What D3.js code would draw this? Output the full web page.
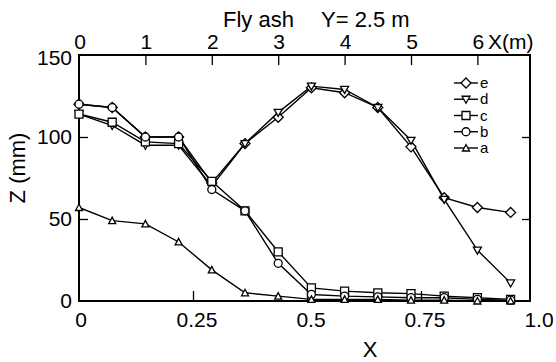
<!DOCTYPE html>
<html><head><meta charset="utf-8">
<script src="https://cdn.jsdelivr.net/npm/d3@7"></script>
<style>
html,body{margin:0;padding:0;background:#fff;}
svg{display:block;}
text{font-family:"Liberation Sans",Arial,sans-serif;fill:#000;}
</style></head>
<body>
<svg id="chart" width="556" height="362"></svg>
<script>
// ---- data ----
const xMeters = [0, 0.5, 1, 1.5, 2, 2.5, 3, 3.5, 4, 4.5, 5, 5.5, 6, 6.5];
const seriesE = [120, 118, 100, 100, 72, 96, 112, 130, 127, 118, 94, 63, 57, 54];
const seriesD = [114, 107, 95, 95, 70, 96, 115, 131, 129, 118, 98, 62, 31, 11];
const seriesC = [114, 109, 97, 96, 73, 55, 30, 8, 6, 5, 4.5, 3, 2, 1];
const seriesB = [120, 118, 100, 100, 68, 55, 23, 4, 3, 2.5, 2, 2, 1, 0.5];
const seriesA = [57, 49, 47, 36, 19, 5, 3, 1, 1, 1, 0.5, 0.5, 0, 0];
const seriesNames = ["e", "d", "c", "b", "a"];
const markerTypes = ["diamond", "down", "square", "circle", "up"];
const bottomTicks = [0, 0.25, 0.5, 0.75, 1.0];
const bottomTickLabels = ["0", "0.25", "0.5", "0.75", "1.0"];
const topTicks = [0, 1, 2, 3, 4, 5, 6];
const yTicks = [0, 50, 100, 150];
const titleLeft = "Fly ash";
const titleRight = "Y= 2.5 m";
const topUnit = "X(m)";
const xLabel = "X";
const yLabel = "Z (mm)";

const allSeries = [seriesE, seriesD, seriesC, seriesB, seriesA];

// ---- layout ----
const L = 79, R = 530, T = 55, B = 301;
const svg = d3.select("#chart");

const xm = d3.scaleLinear().domain([0, (R - L) / 66.4]).range([L, R]);
const xb = d3.scaleLinear().domain([0, 1]).range([L, 535]);
const y = d3.scaleLinear().domain([0, 150]).range([B, T]);

// frame
svg.append("rect").attr("x", L).attr("y", T).attr("width", R - L).attr("height", B - T)
  .attr("fill", "none").attr("stroke", "#000").attr("stroke-width", 2);

// top axis (meters), inward ticks
const topAxis = d3.axisBottom(xm).tickValues(topTicks).tickSize(10).tickFormat("");
const gTop = svg.append("g").attr("transform", `translate(0,${T})`).call(topAxis);
gTop.select(".domain").remove();
gTop.selectAll("line").attr("stroke-width", 1.3);
gTop.selectAll(".tick").filter(d => d === 0).remove();
svg.append("g").selectAll("text").data(topTicks).join("text")
  .attr("x", d => xm(d) + 1).attr("y", 49).attr("text-anchor", "middle")
  .attr("font-size", 21).text(d => d);
svg.append("text").attr("x", 488).attr("y", 49).attr("font-size", 21).text(topUnit);

// bottom axis, inward ticks
const botAxis = d3.axisTop(xb).tickValues(bottomTicks.filter(d => d > 0 && d < 1)).tickSize(10).tickFormat("");
const gBot = svg.append("g").attr("transform", `translate(0,${B})`).call(botAxis);
gBot.select(".domain").remove();
gBot.selectAll("line").attr("stroke-width", 1.3);
svg.append("g").selectAll("text").data(bottomTicks).join("text")
  .attr("x", d => xb(d) + (d === 0 ? 2 : 4)).attr("y", 327).attr("text-anchor", "middle")
  .attr("font-size", 21).text((d, i) => bottomTickLabels[i]);
svg.append("text").attr("x", 370).attr("y", 357).attr("text-anchor", "middle")
  .attr("font-size", 22).text(xLabel);

// left axis
const leftAxis = d3.axisRight(y).tickValues([50, 100]).tickSize(9).tickFormat("");
const gL = svg.append("g").attr("transform", `translate(${L},0)`).call(leftAxis);
gL.select(".domain").remove();
gL.selectAll("line").attr("stroke-width", 1.3);
svg.append("g").selectAll("text").data(yTicks).join("text")
  .attr("x", 72).attr("y", d => y(d) + (d === 150 ? 10 : 7)).attr("text-anchor", "end")
  .attr("font-size", 21).text(d => d);
svg.append("text").attr("transform", `translate(25,168) rotate(-90)`)
  .attr("text-anchor", "middle").attr("font-size", 22).text(yLabel);

// right axis
const rightAxis = d3.axisLeft(y).tickValues([50, 100]).tickSize(8).tickFormat("");
const gR = svg.append("g").attr("transform", `translate(${R},0)`).call(rightAxis);
gR.select(".domain").remove();
gR.selectAll("line").attr("stroke-width", 1.3);

// title
svg.append("text").attr("x", 223).attr("y", 27).attr("font-size", 22).text(titleLeft);
svg.append("text").attr("x", 321).attr("y", 27).attr("font-size", 22).text(titleRight);

// markers
function markerPath(type) {
  switch (type) {
    case "diamond": return "M0,-5L5,0L0,5L-5,0Z";
    case "down": return "M-4,-3L4,-3L0,4Z";
    case "square": return "M-4,-4L4,-4L4,4L-4,4Z";
    case "circle": return "M-4,0A4,4 0 1,0 4,0A4,4 0 1,0 -4,0Z";
    case "up": return "M-3.5,3L3.5,3L0,-3.5Z";
  }
}

const line = d3.line().x((d, i) => xm(xMeters[i])).y(d => y(d));
const gLines = svg.append("g");
allSeries.forEach(s => {
  gLines.append("path").attr("d", line(s)).attr("fill", "none")
    .attr("stroke", "#000").attr("stroke-width", 1.4);
});
allSeries.forEach((s, k) => {
  svg.append("g").selectAll("path").data(s).join("path")
    .attr("transform", (d, i) => `translate(${xm(xMeters[i])},${y(d)})`)
    .attr("d", markerPath(markerTypes[k]))
    .attr("fill", "#fff").attr("stroke", "#000").attr("stroke-width", 1.3);
});

// legend
const legY = d3.scaleLinear().domain([0, 4]).range([83, 148]);
const gLeg = svg.append("g");
seriesNames.forEach((n, k) => {
  const yy = legY(k);
  gLeg.append("line").attr("x1", 454).attr("x2", 478).attr("y1", yy).attr("y2", yy)
    .attr("stroke", "#000").attr("stroke-width", 1.4);
  gLeg.append("path").attr("transform", `translate(466,${yy})`).attr("d", markerPath(markerTypes[k]))
    .attr("fill", "#fff").attr("stroke", "#000").attr("stroke-width", 1.3);
  gLeg.append("text").attr("x", 480).attr("y", yy + 5).attr("font-size", 15).text(n);
});
</script>
</body></html>
